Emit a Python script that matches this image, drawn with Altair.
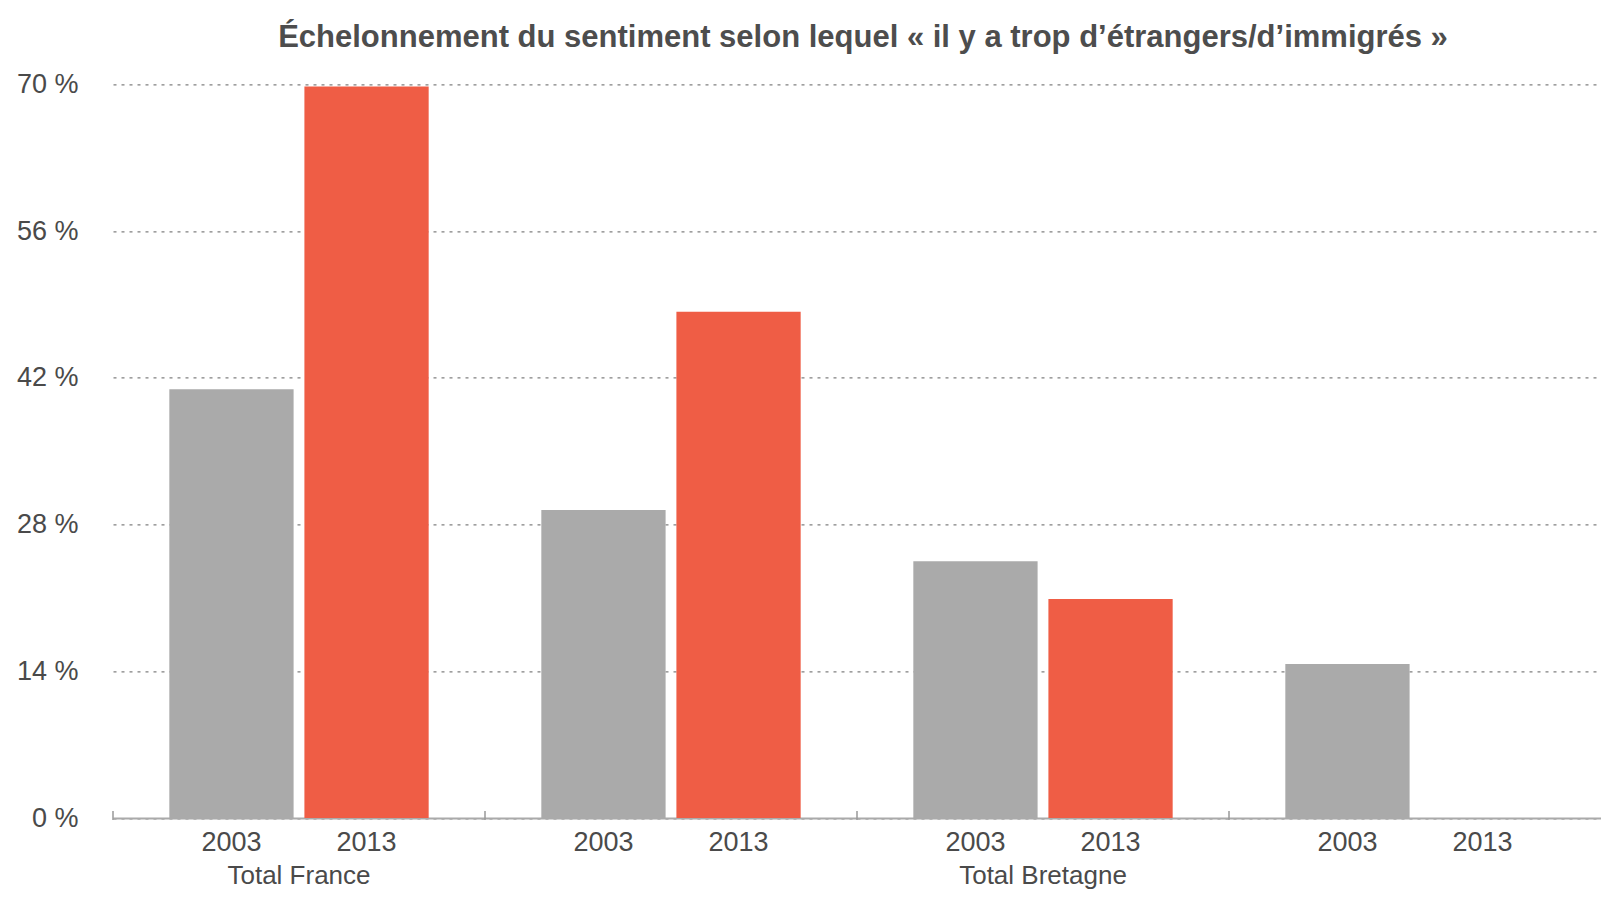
import altair as alt
import pandas as pd

groups = ["G1", "G2", "G3", "G4"]
group_labels = ["Total France", "", "Total Bretagne", ""]
years = ["2003", "2013"]
values_2003 = [40.9, 29.4, 24.5, 14.7]
values_2013 = [69.8, 48.3, 20.9, None]
y_ticks = [0, 14, 28, 42, 56, 70]
title_text = "Échelonnement du sentiment selon lequel « il y a trop d’étrangers/d’immigrés »"
colors = ["#AAAAAA", "#EF5D45"]

rows = []
for g, v3, v13 in zip(groups, values_2003, values_2013):
    rows.append({"group": g, "year": years[0], "value": v3})
    rows.append({"group": g, "year": years[1], "value": v13})
df = pd.DataFrame(rows)
gdf = pd.DataFrame({"group": groups, "label": group_labels})

W = 1488
H = 733.6
FONT = "Liberation Sans"
TXT = "#4A4A4A"
FS = 27

label_expr = " : ".join(
    f"datum.value == '{g}' ? '{l}'" for g, l in zip(groups, group_labels)
) + " : ''"

x_main = alt.X(
    "group:N",
    sort=groups,
    scale=alt.Scale(paddingInner=0, paddingOuter=0),
    axis=alt.Axis(
        title=None,
        labelExpr=label_expr,
        ticks=False,
        domainColor="#AAAAAA",
        domainWidth=2,
        labelFontSize=26,
        labelColor=TXT,
        labelFont=FONT,
        labelPadding=44,
        labelAngle=0,
    ),
)
x_off = alt.XOffset("year:N", sort=years, scale=alt.Scale(paddingInner=0.08, paddingOuter=0.417))

bars = alt.Chart(df).mark_bar().encode(
    x=x_main,
    xOffset=x_off,
    y=alt.Y(
        "value:Q",
        scale=alt.Scale(domain=[0, 70], nice=False, zero=True),
        axis=alt.Axis(
            values=y_ticks,
            labelExpr="datum.value + ' %'",
            grid=True,
            gridDash=[3, 5],
            gridColor="#808080",
            gridWidth=1.2,
            domain=False,
            ticks=False,
            labelPadding=35,
            labelFontSize=FS,
            labelColor=TXT,
            labelFont=FONT,
            title=None,
        ),
    ),
    color=alt.Color("year:N", scale=alt.Scale(domain=years, range=colors), legend=None),
)

year_text = alt.Chart(df).mark_text(
    fontSize=FS, baseline="middle", align="center", color=TXT, font=FONT
).encode(
    x=alt.X("group:N", sort=groups),
    xOffset=alt.XOffset("year:N", sort=years),
    y=alt.value(H + 25),
    text="year:N",
)

ticks = alt.Chart(gdf).mark_rule(color="#999999", strokeWidth=1.5).encode(
    x=alt.X("group:N", sort=groups, bandPosition=0),
    y=alt.value(H - 7),
    y2=alt.value(H + 2),
)

chart = (
    alt.layer(bars, year_text, ticks)
    .properties(
        width=W,
        height=H,
        autosize=alt.AutoSizeParams(type="none"),
        padding={"left": 105, "top": 76.4, "right": 0, "bottom": 73},
        title=alt.TitleParams(
            text=title_text,
            font=FONT,
            fontSize=31,
            fontWeight="bold",
            color="#4D4D4D",
            anchor="middle",
            frame="group",
            offset=16,
            dx=6,
        ),
    )
    .configure_view(stroke=None)
)

chart.save("out.html", embed_options={"renderer": "svg", "actions": False})
